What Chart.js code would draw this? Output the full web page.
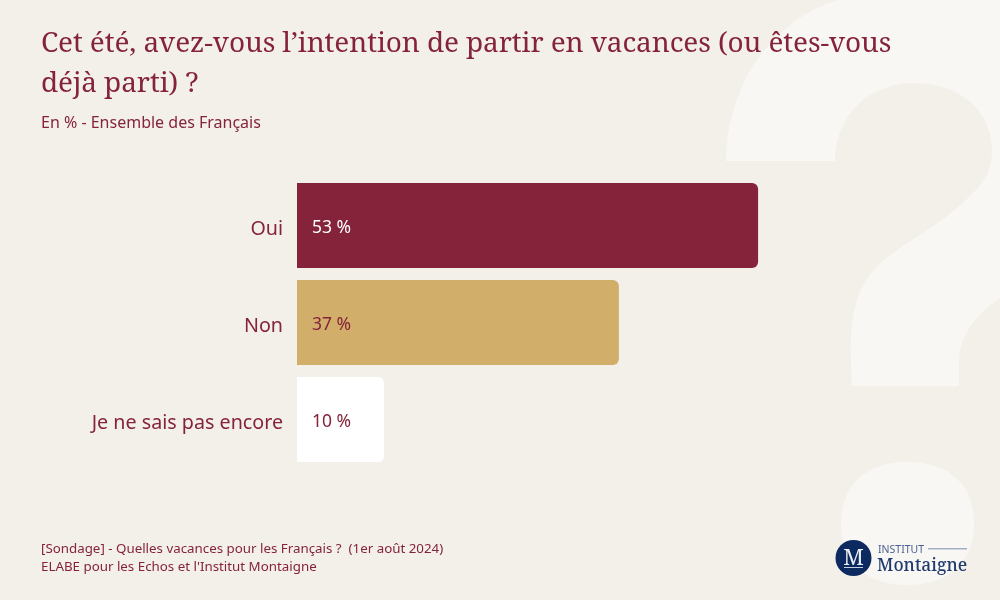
<!DOCTYPE html>
<html lang="fr">
<head>
<meta charset="utf-8">
<title>Vacances</title>
<script src="https://cdn.jsdelivr.net/npm/chart.js@4"></script>
<style>
  html, body { margin: 0; padding: 0; background: #f3f0ea; }
  #page { position: relative; width: 1000px; height: 600px; overflow: hidden; background: #f3f0ea; color: #85233a; font-family: "Noto Sans", "Open Sans", sans-serif; }
  #bg, #logo { position: absolute; left: 0; top: 0; }
  #chart { position: absolute; left: 0; top: 0; }
  h1 { position: absolute; left: 41px; top: 21px; margin: 0; font: 400 28px/40px "Noto Serif", "DejaVu Serif", serif; letter-spacing: -0.11px; white-space: nowrap; }
  .sub { position: absolute; left: 41px; top: 112px; font-size: 16px; line-height: 20px; }
  .foot { position: absolute; left: 41px; top: 539px; font-size: 13.33px; line-height: 18px; white-space: pre; }
</style>
</head>
<body>
<div id="page">
  <svg id="bg" width="1000" height="600" viewBox="0 0 1000 600">
    <path fill="#f8f7f3" d="M726 161 C727 85 770 22 837 0 L1000 0 L1000 298 C975 315 959 335 959 364 L959 386 L852 386 C850 340 848 310 867 279 C885 250 930 235 967 199 C985 182 992 170 992 151 C992 110 960 83 913 83 C870 83 835 115 835 161 Z"/>
    <path fill="#f8f7f3" d="M841 524 C841 483 868 462 907 462 C947 462 974 483 974 524 C974 564 947 585 907 585 C868 585 841 564 841 524 Z"/>
  </svg>
  <canvas id="chart" width="1000" height="600"></canvas>
  <h1>Cet été, avez-vous l’intention de partir en vacances (ou êtes-vous<br>déjà parti) ?</h1>
  <div class="sub">En % - Ensemble des Français</div>
  <div class="foot">[Sondage] - Quelles vacances pour les Français ?  (1er août 2024)
ELABE pour les Echos et l'Institut Montaigne</div>
  <svg id="logo" width="1000" height="600" viewBox="0 0 1000 600">
    <circle cx="853.500" cy="558" r="18" fill="#0c2a60"/>
    <text x="853.500" y="565" text-anchor="middle" fill="#e9edf4" font-family="Noto Serif, DejaVu Serif, serif" font-size="22">M</text>
    <rect x="844" y="567" width="19" height="1" fill="#c5cede"/>
    <text x="878" y="553" fill="#4a6190" font-family="Noto Sans, Open Sans, sans-serif" font-size="10.500">INSTITUT</text>
    <rect x="928" y="548" width="39" height="1.500" fill="#a3b0c8"/>
    <text x="877" y="571" fill="#1f3a6e" font-family="Noto Serif, DejaVu Serif, serif" font-size="17.400" font-weight="500">Montaigne</text>
  </svg>
</div>
<script>
  var categories = ["Oui", "Non", "Je ne sais pas encore"];
  var values = [53, 37, 10];
  var barColors = ["#85233a", "#d1ae6a", "#ffffff"];
  var valueColors = ["#ffffff", "#85233a", "#85233a"];

  // value labels sit just inside the bar's left edge
  var valueLabels = {
    id: "valueLabels",
    afterDatasetsDraw: function (chart) {
      var ctx = chart.ctx;
      ctx.save();
      ctx.font = "17.500px 'Noto Sans', 'Open Sans', sans-serif";
      ctx.textAlign = "left";
      ctx.textBaseline = "middle";
      chart.getDatasetMeta(0).data.forEach(function (bar, i) {
        ctx.fillStyle = valueColors[i];
        ctx.fillText(values[i] + " %", chart.chartArea.left + 15, bar.y + 3);
      });
      ctx.restore();
    }
  };

  new Chart(document.getElementById("chart"), {
    type: "bar",
    data: {
      labels: categories,
      datasets: [{
        data: values,
        backgroundColor: barColors,
        borderRadius: { topLeft: 0, bottomLeft: 0, topRight: 6, bottomRight: 6 },
        borderSkipped: false,
        categoryPercentage: 1,
        barPercentage: 0.876
      }]
    },
    options: {
      indexAxis: "y",
      responsive: false,
      animation: false,
      layout: { padding: { top: 177, bottom: 132, left: 0, right: 7 } },
      plugins: { legend: { display: false }, tooltip: { enabled: false } },
      scales: {
        x: { display: false, min: 0, max: 80, grid: { display: false } },
        y: {
          afterFit: function (axis) { axis.width = 297; },
          grid: { display: false },
          border: { display: false },
          ticks: { color: "#85233a", padding: 6, labelOffset: 4, font: { family: "'Noto Sans', 'Open Sans', sans-serif", size: 19.7 } }
        }
      }
    },
    plugins: [valueLabels]
  });
</script>
</body>
</html>
